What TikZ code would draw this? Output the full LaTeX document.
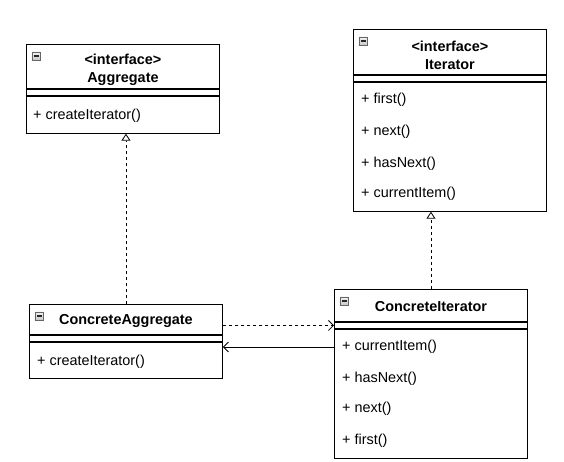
\documentclass[tikz,border=0pt]{standalone}
\usepackage{fontspec}
\setmainfont{Liberation Sans}
\usetikzlibrary{positioning, arrows.meta}

\begin{document}
\begin{tikzpicture}[
  x=1pt, y=-1pt,
  every node/.style={font=\fontsize{14.4}{18}\selectfont},
  head/.style={draw, fill=white, line width=0.9pt, minimum width=193pt, inner sep=0pt},
  title/.style={inner sep=0pt, align=center, font=\fontsize{14.4}{18}\selectfont\bfseries},
  gap/.style={draw, line width=0.9pt, minimum width=193pt, minimum height=6pt, inner sep=0pt},
  body/.style={draw, line width=0.9pt, minimum width=193pt, inner sep=0pt},
  op/.style={anchor=west, inner sep=0pt},
  icon/.style={draw=gray!80!black, top color=gray!10, bottom color=gray!45, minimum size=8.5pt,
    inner sep=0pt, line width=0.6pt, path picture={\draw[line width=1.3pt, gray!30!black]
      ([xshift=1.8pt]path picture bounding box.west) --
      ([xshift=-1.8pt]path picture bounding box.east);}},
  real/.style={dashed, line width=0.8pt, -{Triangle[open, length=7pt, width=9pt]}},
  dep/.style={dashed, line width=0.8pt, -{Straight Barb[length=5pt, width=10pt]}},
  assoc/.style={line width=0.8pt, -{Straight Barb[length=5pt, width=10pt]}},
]
  \useasboundingbox (0,0) rectangle (564,461);

  % interface Aggregate
  \node[head, minimum height=44pt, anchor=north west] (agg) at (26,44) {};
  \node[title, yshift=-3pt] (aggtitle) at (agg.center) {<interface>\\Aggregate};
  \node[gap, below=0pt of agg] (aggsep) {};
  \node[body, minimum height=37pt, below=0pt of aggsep] (aggbody) {};
  \node[icon, below right=7.5pt and 5.5pt of agg.north west] (aggicon) {};
  \node[op] (aggop) at (33,116) {+ createIterator()};

  % interface Iterator
  \node[head, minimum height=45pt, anchor=north west] (iter) at (353,29) {};
  \node[title, yshift=-3pt] (itertitle) at (iter.center) {<interface>\\Iterator};
  \node[gap, below=0pt of iter] (itersep) {};
  \node[body, minimum height=129pt, below=0pt of itersep] (iterbody) {};
  \node[icon, below right=7.5pt and 5.5pt of iter.north west] (itericon) {};
  \node[op] (it1) at (361,100) {+ first()};
  \node[op] (it2) at (361,132) {+ next()};
  \node[op] (it3) at (361,164) {+ hasNext()};
  \node[op] (it4) at (361,194) {+ currentItem()};

  % ConcreteAggregate
  \node[head, minimum height=30pt, anchor=north west] (cagg) at (29,304) {};
  \node[title, yshift=-2pt] (caggtitle) at (cagg.center) {ConcreteAggregate};
  \node[gap, below=0pt of cagg] (caggsep) {};
  \node[body, minimum height=36pt, below=0pt of caggsep] (caggbody) {};
  \node[icon, below right=7.5pt and 5.5pt of cagg.north west] (caggicon) {};
  \node[op] (caggop) at (37,362) {+ createIterator()};

  % ConcreteIterator
  \node[head, minimum height=32pt, anchor=north west] (citer) at (334,289) {};
  \node[title, yshift=-1pt] (citertitle) at (citer.center) {ConcreteIterator};
  \node[gap, below=0pt of citer] (citersep) {};
  \node[body, minimum height=129pt, below=0pt of citersep] (citerbody) {};
  \node[icon, below right=7.5pt and 5.5pt of citer.north west] (citericon) {};
  \node[op] (ci1) at (342,347) {+ currentItem()};
  \node[op] (ci2) at (342,379) {+ hasNext()};
  \node[op] (ci3) at (342,409) {+ next()};
  \node[op] (ci4) at (342,441) {+ first()};

  % relations
  \draw[real] (cagg.north) -- (cagg.north |- aggbody.south);
  \draw[real] (citer.north) -- (citer.north |- iterbody.south);
  \draw[dep] ([yshift=-6pt]cagg.east) -- ([yshift=-6pt]cagg.east -| citer.west);
  \draw[assoc] (citerbody.west |- ci1) -- (caggbody.east |- ci1);
\end{tikzpicture}
\end{document}
